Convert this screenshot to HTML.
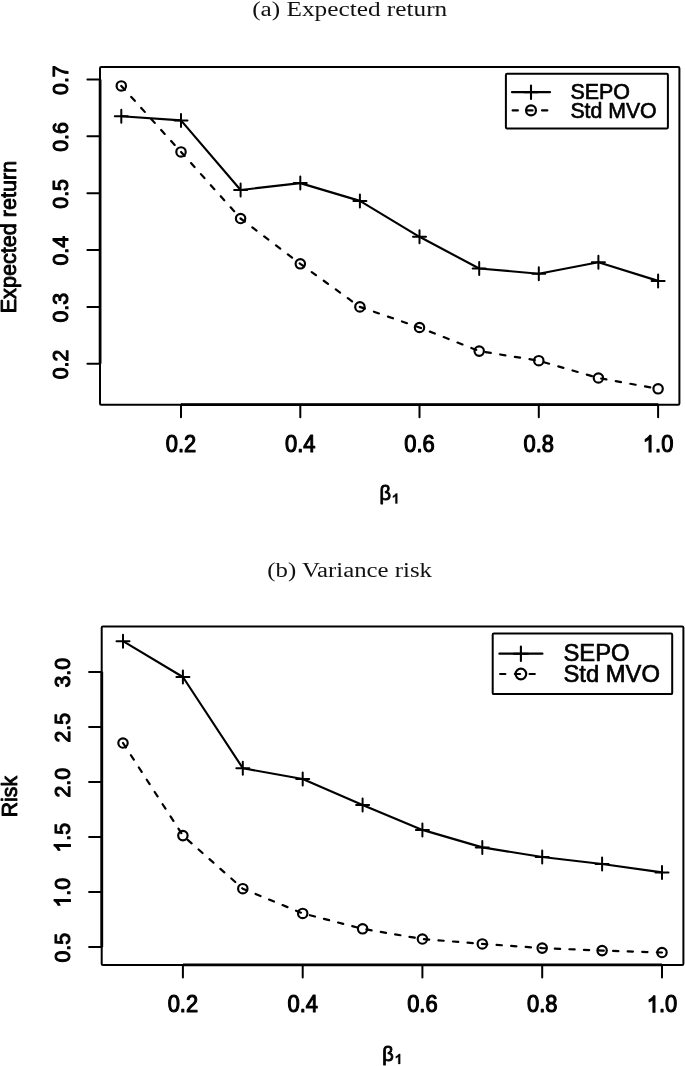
<!DOCTYPE html>
<html><head><meta charset="utf-8"><title>Figure</title>
<style>
html,body{margin:0;padding:0;background:#fff;}
body{width:685px;height:1066px;overflow:hidden;}
svg{display:block;filter:grayscale(1);}
.t text{font-family:"Liberation Sans",sans-serif;fill:#000;stroke:#000;stroke-width:0.85px;stroke-linejoin:round;}
.l text{stroke-width:0.65px;}
.k text{stroke-width:1.1px;}
.g{fill:#000;stroke:#000;stroke-width:1.1px;stroke-linejoin:round;vector-effect:non-scaling-stroke;}
.cap{font-family:"Liberation Serif",serif;fill:#111;}
</style></head>
<body>
<svg width="685" height="1066" viewBox="0 0 685 1066">
<rect width="685" height="1066" fill="#fff"/>
<text class="cap" x="252.2" y="16.3" font-size="20.8" textLength="195" lengthAdjust="spacingAndGlyphs">(a) Expected return</text>
<g fill="none" stroke="#000" stroke-width="2" stroke-linecap="round" stroke-linejoin="round">
<rect x="100.0" y="67.0" width="579.4" height="337.7" rx="1.2"/>
<path d="M181.0 404.55H658.1M100.1 79.4V363.8" stroke-width="2.75" stroke-linecap="butt"/>
<path d="M181.0 404.7V417.3M300.3 404.7V417.3M419.5 404.7V417.3M538.8 404.7V417.3M658.1 404.7V417.3M100.0 79.4H87.4M100.0 136.3H87.4M100.0 193.2H87.4M100.0 250.0H87.4M100.0 306.9H87.4M100.0 363.8H87.4"/>
<polyline points="121.3,116.2 181.0,120.4 240.6,190.0 300.3,183.1 359.9,200.9 419.5,236.8 479.2,268.5 538.8,273.7 598.4,262.2 658.1,280.9" stroke-width="2.15"/>
<polyline points="121.3,85.9 181.0,151.9 240.6,218.5 300.3,263.8 359.9,306.9 419.5,327.5 479.2,351.1 538.8,360.7 598.4,378.0 658.1,388.8" stroke-width="2.2" stroke-dasharray="5.3 9.555"/>
<path d="M114.8 116.2H127.8M121.3 109.7V122.7M174.5 120.4H187.5M181.0 113.9V126.9M234.1 190.0H247.1M240.6 183.5V196.5M293.8 183.1H306.8M300.3 176.6V189.6M353.4 200.9H366.4M359.9 194.4V207.4M413.0 236.8H426.0M419.5 230.3V243.3M472.7 268.5H485.7M479.2 262.0V275.0M532.3 273.7H545.3M538.8 267.2V280.2M591.9 262.2H604.9M598.4 255.7V268.7M651.6 280.9H664.6M658.1 274.4V287.4"/>
<circle cx="121.3" cy="85.9" r="4.7" stroke-width="2.15"/>
<circle cx="181.0" cy="151.9" r="4.7" stroke-width="2.15"/>
<circle cx="240.6" cy="218.5" r="4.7" stroke-width="2.15"/>
<circle cx="300.3" cy="263.8" r="4.7" stroke-width="2.15"/>
<circle cx="359.9" cy="306.9" r="4.7" stroke-width="2.15"/>
<circle cx="419.5" cy="327.5" r="4.7" stroke-width="2.15"/>
<circle cx="479.2" cy="351.1" r="4.7" stroke-width="2.15"/>
<circle cx="538.8" cy="360.7" r="4.7" stroke-width="2.15"/>
<circle cx="598.4" cy="378.0" r="4.7" stroke-width="2.15"/>
<circle cx="658.1" cy="388.8" r="4.7" stroke-width="2.15"/>
<rect x="505.9" y="73.7" width="162.0" height="54.8" rx="1.2"/>
<path d="M512.0 92.2H550.0" stroke-width="2.2"/>
<path d="M524.3 92.2H537.7M531.0 85.5V98.9" stroke-width="2.1"/>
<path d="M512.6 110.4H550.0" stroke-width="2.1" stroke-dasharray="5.3 9.42"/>
<circle cx="531.0" cy="110.4" r="4.95" stroke-width="2.2"/>
</g>
<g class="t k" font-size="22.6">
<g transform="translate(181.0 451.9) scale(0.95 1)"><text x="-16.05" y="0" font-size="23.1">0.2</text></g>
<g transform="translate(300.3 451.9) scale(0.95 1)"><text x="-16.05" y="0" font-size="23.1">0.4</text></g>
<g transform="translate(419.5 451.9) scale(0.95 1)"><text x="-16.05" y="0" font-size="23.1">0.6</text></g>
<g transform="translate(538.8 451.9) scale(0.95 1)"><text x="-16.05" y="0" font-size="23.1">0.8</text></g>
<g transform="translate(658.1 451.9) scale(0.95 1)"><path class="g" transform="translate(-16.05 0) scale(0.01128 -0.01128)" d="M763 0H583V1147Q518 1085 412 1023T223 930V1104Q373 1174 485 1275T644 1470H763Z"/><text x="-3.21" y="0" font-size="23.1">.0</text></g>
<g transform="translate(68.1 80.15) rotate(-90) scale(0.931 1)"><text x="-15.85" y="0" font-size="22.8">0.7</text></g>
<g transform="translate(68.1 137.03) rotate(-90) scale(0.931 1)"><text x="-15.85" y="0" font-size="22.8">0.6</text></g>
<g transform="translate(68.1 193.91) rotate(-90) scale(0.931 1)"><text x="-15.85" y="0" font-size="22.8">0.5</text></g>
<g transform="translate(68.1 250.79) rotate(-90) scale(0.931 1)"><text x="-15.85" y="0" font-size="22.8">0.4</text></g>
<g transform="translate(68.1 307.67) rotate(-90) scale(0.931 1)"><text x="-15.85" y="0" font-size="22.8">0.3</text></g>
<g transform="translate(68.1 364.55) rotate(-90) scale(0.931 1)"><text x="-15.85" y="0" font-size="22.8">0.2</text></g>
<text transform="translate(15.5 237.0) rotate(-90)" text-anchor="middle" font-size="21.2" style="stroke-width:.9px" textLength="152.6" lengthAdjust="spacingAndGlyphs">Expected return</text>
<text x="379.4" y="500.25" font-size="20" style="stroke-width:.9px">β</text>
<path transform="translate(391.8 503.5) scale(0.00684 -0.00684)" d="M806 0H525V1059Q371 915 162 846V1101Q272 1137 401 1237T578 1472H806Z" fill="#000" stroke="#000" stroke-width="40"/>
</g>
<g class="t l" font-size="21.2">
<text x="570.4" y="99.0" textLength="59.6" lengthAdjust="spacingAndGlyphs">SEPO</text>
<text x="570.4" y="118.0" textLength="86.2" lengthAdjust="spacingAndGlyphs">Std MVO</text>
</g>
<text class="cap" x="267.3" y="576.5" font-size="20.8" textLength="164.7" lengthAdjust="spacingAndGlyphs">(b) Variance risk</text>
<g fill="none" stroke="#000" stroke-width="2" stroke-linecap="round" stroke-linejoin="round">
<rect x="101.7" y="626.5" width="581.7" height="338.5" rx="1.2"/>
<path d="M182.9 964.85H662.0M101.8 672.0V947.0" stroke-width="2.75" stroke-linecap="butt"/>
<path d="M182.9 965.0V977.6M302.7 965.0V977.6M422.4 965.0V977.6M542.2 965.0V977.6M662.0 965.0V977.6M101.7 672.0H89.1M101.7 727.0H89.1M101.7 782.0H89.1M101.7 837.0H89.1M101.7 892.0H89.1M101.7 947.0H89.1"/>
<polyline points="123.0,641.2 182.9,677.0 242.8,768.2 302.7,779.0 362.6,804.9 422.4,829.9 482.3,847.4 542.2,857.0 602.1,864.0 662.0,872.4" stroke-width="2.15"/>
<polyline points="123.0,743.0 182.9,835.6 242.8,888.7 302.7,913.4 362.6,928.8 422.4,939.0 482.3,943.9 542.2,948.1 602.1,950.6 662.0,952.5" stroke-width="2.2" stroke-dasharray="5.3 9.283"/>
<path d="M116.5 641.2H129.5M123.0 634.7V647.7M176.4 677.0H189.4M182.9 670.5V683.5M236.3 768.2H249.3M242.8 761.7V774.7M296.2 779.0H309.2M302.7 772.5V785.5M356.1 804.9H369.1M362.6 798.4V811.4M415.9 829.9H428.9M422.4 823.4V836.4M475.8 847.4H488.8M482.3 840.9V853.9M535.7 857.0H548.7M542.2 850.5V863.5M595.6 864.0H608.6M602.1 857.5V870.5M655.5 872.4H668.5M662.0 865.9V878.9"/>
<circle cx="123.0" cy="743.0" r="4.7" stroke-width="2.15"/>
<circle cx="182.9" cy="835.6" r="4.7" stroke-width="2.15"/>
<circle cx="242.8" cy="888.7" r="4.7" stroke-width="2.15"/>
<circle cx="302.7" cy="913.4" r="4.7" stroke-width="2.15"/>
<circle cx="362.6" cy="928.8" r="4.7" stroke-width="2.15"/>
<circle cx="422.4" cy="939.0" r="4.7" stroke-width="2.15"/>
<circle cx="482.3" cy="943.9" r="4.7" stroke-width="2.15"/>
<circle cx="542.2" cy="948.1" r="4.7" stroke-width="2.15"/>
<circle cx="602.1" cy="950.6" r="4.7" stroke-width="2.15"/>
<circle cx="662.0" cy="952.5" r="4.7" stroke-width="2.15"/>
<rect x="492.7" y="633.5" width="179.5" height="60.6" rx="1.2"/>
<path d="M499.4 653.7H542.4" stroke-width="2.2"/>
<path d="M513.7 653.7H528.1M520.9 646.5V660.9" stroke-width="2.1"/>
<path d="M500.09999999999997 674.0H542.4" stroke-width="2.1" stroke-dasharray="5.3 9.42"/>
<circle cx="520.9" cy="674.0" r="5.3" stroke-width="2.2"/>
</g>
<g class="t k" font-size="22.6">
<g transform="translate(182.9 1012.3) scale(0.95 1)"><text x="-16.05" y="0" font-size="23.1">0.2</text></g>
<g transform="translate(302.7 1012.3) scale(0.95 1)"><text x="-16.05" y="0" font-size="23.1">0.4</text></g>
<g transform="translate(422.4 1012.3) scale(0.95 1)"><text x="-16.05" y="0" font-size="23.1">0.6</text></g>
<g transform="translate(542.2 1012.3) scale(0.95 1)"><text x="-16.05" y="0" font-size="23.1">0.8</text></g>
<g transform="translate(662.0 1012.3) scale(0.95 1)"><path class="g" transform="translate(-16.05 0) scale(0.01128 -0.01128)" d="M763 0H583V1147Q518 1085 412 1023T223 930V1104Q373 1174 485 1275T644 1470H763Z"/><text x="-3.21" y="0" font-size="23.1">.0</text></g>
<g transform="translate(70.4 672.75) rotate(-90) scale(0.931 1)"><text x="-15.85" y="0" font-size="22.8">3.0</text></g>
<g transform="translate(70.4 727.75) rotate(-90) scale(0.931 1)"><text x="-15.85" y="0" font-size="22.8">2.5</text></g>
<g transform="translate(70.4 782.75) rotate(-90) scale(0.931 1)"><text x="-15.85" y="0" font-size="22.8">2.0</text></g>
<g transform="translate(70.4 837.75) rotate(-90) scale(0.931 1)"><path class="g" transform="translate(-15.85 0) scale(0.01113 -0.01113)" d="M763 0H583V1147Q518 1085 412 1023T223 930V1104Q373 1174 485 1275T644 1470H763Z"/><text x="-3.17" y="0" font-size="22.8">.5</text></g>
<g transform="translate(70.4 892.75) rotate(-90) scale(0.931 1)"><path class="g" transform="translate(-15.85 0) scale(0.01113 -0.01113)" d="M763 0H583V1147Q518 1085 412 1023T223 930V1104Q373 1174 485 1275T644 1470H763Z"/><text x="-3.17" y="0" font-size="22.8">.0</text></g>
<g transform="translate(70.4 947.75) rotate(-90) scale(0.931 1)"><text x="-15.85" y="0" font-size="22.8">0.5</text></g>
<text transform="translate(17.0 796.6) rotate(-90)" text-anchor="middle" font-size="21.2" style="stroke-width:.9px" textLength="41.2" lengthAdjust="spacingAndGlyphs">Risk</text>
<text x="382.2" y="1060.75" font-size="20" style="stroke-width:.9px">β</text>
<path transform="translate(394.7 1064.0) scale(0.00684 -0.00684)" d="M806 0H525V1059Q371 915 162 846V1101Q272 1137 401 1237T578 1472H806Z" fill="#000" stroke="#000" stroke-width="40"/>
</g>
<g class="t l" font-size="23.2">
<text x="563.4" y="661.0" textLength="66.2" lengthAdjust="spacingAndGlyphs">SEPO</text>
<text x="563.4" y="682.3" textLength="96.6" lengthAdjust="spacingAndGlyphs">Std MVO</text>
</g>
</svg>
</body></html>
